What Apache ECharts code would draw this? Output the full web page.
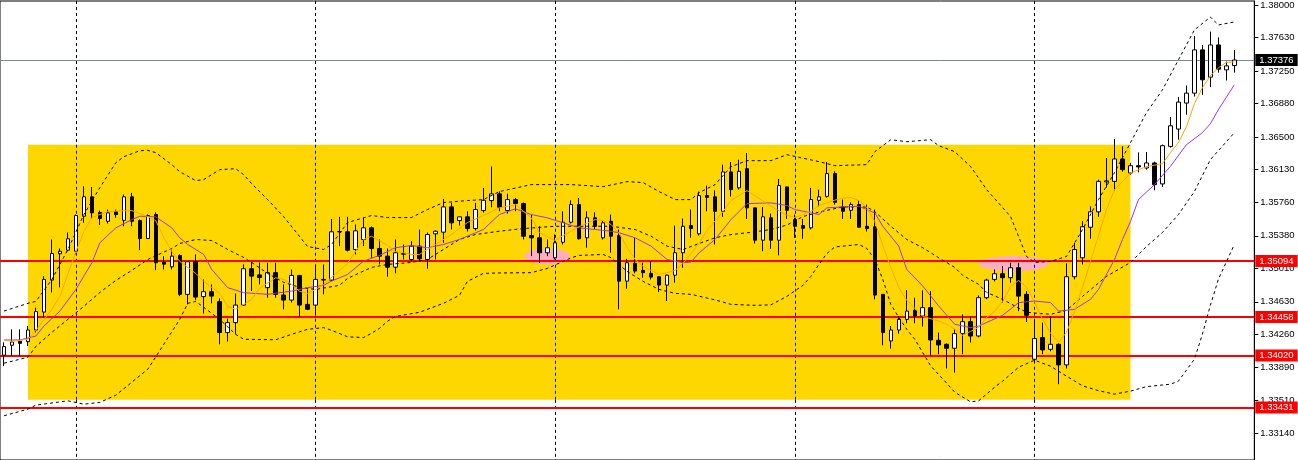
<!DOCTYPE html>
<html><head><meta charset="utf-8">
<script src="https://cdn.jsdelivr.net/npm/echarts@6/dist/echarts.min.js"></script>
<style>html,body{margin:0;padding:0;background:#fff}#c{width:1298px;height:460px}</style>
</head><body><div id="c"></div>
<script>
// Candles: [open, close, low, high]
const ohlc = [
[1.34024,1.34122,1.33902,1.34171],[1.34137,1.34174,1.34016,1.34318],[1.34182,1.34159,1.34016,1.34318],[1.34179,1.34310,1.34129,1.34356],
[1.34310,1.34519,1.34281,1.34564],[1.34514,1.34885,1.34451,1.34922],[1.34877,1.35179,1.34737,1.35338],[1.35176,1.35205,1.34794,1.35236],
[1.35217,1.35346,1.35205,1.35417],[1.35205,1.35610,1.35168,1.35621],[1.35602,1.35822,1.35527,1.35942],[1.35822,1.35640,1.35572,1.35935],
[1.35644,1.35576,1.35502,1.35666],[1.35545,1.35640,1.35519,1.35678],[1.35652,1.35621,1.35584,1.35678],[1.35556,1.35822,1.35488,1.35848],
[1.35822,1.35545,1.35488,1.35867],[1.35553,1.35349,1.35217,1.35564],[1.35349,1.35610,1.35343,1.35621],[1.35621,1.35074,1.34990,1.35647],
[1.35081,1.35058,1.34998,1.35149],[1.35028,1.35149,1.34998,1.35224],[1.35157,1.34715,1.34695,1.35168],[1.34715,1.35085,1.34601,1.35092],
[1.35085,1.34684,1.34650,1.35168],[1.34689,1.34745,1.34496,1.34885],[1.34745,1.34695,1.34613,1.34828],[1.34632,1.34281,1.34148,1.34669],
[1.34281,1.34394,1.34179,1.34439],[1.34394,1.34593,1.34261,1.34725],[1.34593,1.35006,1.34582,1.35055],[1.35006,1.34922,1.34752,1.35081],
[1.34936,1.34907,1.34828,1.35077],[1.34791,1.34961,1.34677,1.35074],[1.34961,1.34715,1.34677,1.35074],[1.34707,1.34650,1.34545,1.34828],
[1.34650,1.34930,1.34621,1.34998],[1.34930,1.34593,1.34462,1.34930],[1.34601,1.34545,1.34537,1.34771],[1.34593,1.34885,1.34480,1.35055],
[1.34877,1.34885,1.34715,1.35055],[1.34877,1.35425,1.34865,1.35572],[1.35425,1.35428,1.35262,1.35595],[1.35425,1.35217,1.35202,1.35595],
[1.35224,1.35436,1.35168,1.35508],[1.35338,1.35470,1.35262,1.35584],[1.35470,1.35236,1.35130,1.35485],[1.35236,1.35149,1.35055,1.35338],
[1.35149,1.35024,1.34915,1.35236],[1.35024,1.35187,1.34953,1.35338],[1.35179,1.35171,1.35111,1.35281],[1.35111,1.35262,1.35089,1.35319],
[1.35262,1.35119,1.35089,1.35451],[1.35111,1.35394,1.35006,1.35417],[1.35402,1.35432,1.35111,1.35440],[1.35421,1.35708,1.35300,1.35799],
[1.35708,1.35527,1.35451,1.35754],[1.35553,1.35595,1.35496,1.35598],[1.35595,1.35462,1.35428,1.35658],[1.35462,1.35678,1.35440,1.35754],
[1.35666,1.35783,1.35644,1.35924],[1.35780,1.35856,1.35704,1.36168],[1.35856,1.35704,1.35658,1.35885],[1.35666,1.35791,1.35632,1.35859],
[1.35791,1.35746,1.35658,1.35810],[1.35746,1.35375,1.35338,1.35757],[1.35383,1.35357,1.35149,1.35621],[1.35357,1.35187,1.35074,1.35488],
[1.35187,1.35244,1.35149,1.35338],[1.35130,1.35300,1.35111,1.35394],[1.35307,1.35534,1.35281,1.35658],[1.35534,1.35734,1.35519,1.35783],
[1.35734,1.35346,1.35338,1.35810],[1.35357,1.35584,1.35244,1.35658],[1.35584,1.35488,1.35451,1.35647],[1.35357,1.35527,1.35338,1.35553],
[1.35545,1.35375,1.35187,1.35621],[1.35383,1.34865,1.34545,1.35451],[1.34865,1.35074,1.34779,1.35119],[1.35066,1.34979,1.34953,1.35357],
[1.34987,1.34961,1.34904,1.35074],[1.34953,1.34911,1.34885,1.35092],[1.34915,1.34820,1.34741,1.34919],[1.34820,1.34933,1.34639,1.34941],
[1.34933,1.35187,1.34847,1.35496],[1.35187,1.35488,1.35017,1.35576],[1.35496,1.35462,1.35357,1.35678],[1.35402,1.35836,1.35383,1.35882],
[1.35836,1.35817,1.35658,1.35950],[1.35822,1.35658,1.35281,1.35896],[1.35658,1.36105,1.35595,1.36188],[1.36105,1.35904,1.35825,1.36218],
[1.35924,1.36112,1.35904,1.36244],[1.36142,1.35697,1.35572,1.36320],[1.35697,1.35330,1.35292,1.35700],[1.35330,1.35595,1.35205,1.35708],
[1.35584,1.35330,1.35232,1.35632],[1.35330,1.35950,1.35157,1.36026],[1.35935,1.35670,1.35572,1.35938],[1.35564,1.35488,1.35357,1.35621],
[1.35496,1.35466,1.35346,1.35572],[1.35470,1.35791,1.35451,1.35924],[1.35783,1.35822,1.35715,1.35904],[1.35828,1.36086,1.35814,1.36218],
[1.36086,1.35760,1.35734,1.36112],[1.35708,1.35658,1.35572,1.35791],[1.35670,1.35734,1.35572,1.35760],[1.35734,1.35477,1.35474,1.35783],
[1.35488,1.35462,1.35428,1.35734],[1.35482,1.34707,1.34658,1.35678],[1.34715,1.34281,1.34137,1.34715],[1.34186,1.34310,1.34099,1.34356],
[1.34310,1.34431,1.34269,1.34469],[1.34431,1.34525,1.34386,1.34763],[1.34533,1.34469,1.34386,1.34677],[1.34469,1.34564,1.34349,1.34760],
[1.34564,1.34197,1.34016,1.34752],[1.34193,1.34140,1.34035,1.34281],[1.34148,1.34103,1.33873,1.34159],[1.34103,1.34269,1.33827,1.34318],
[1.34269,1.34405,1.34035,1.34488],[1.34405,1.34242,1.34167,1.34465],[1.34242,1.34677,1.34227,1.34703],[1.34677,1.34877,1.34660,1.34893],
[1.34885,1.34949,1.34862,1.34998],[1.34949,1.34904,1.34621,1.35035],[1.34904,1.35017,1.34847,1.35074],[1.35017,1.34695,1.34525,1.35074],
[1.34715,1.34477,1.34401,1.34752],[1.33978,1.34213,1.33941,1.34431],[1.34224,1.34084,1.34035,1.34394],[1.34091,1.34148,1.34069,1.34469],
[1.34148,1.33914,1.33695,1.34159],[1.33914,1.34915,1.33873,1.35066],[1.34915,1.35224,1.34885,1.35300],[1.35130,1.35482,1.35055,1.35545],
[1.35477,1.35652,1.35346,1.35715],[1.35652,1.35998,1.35595,1.36017],[1.35992,1.36003,1.35927,1.36263],[1.35998,1.36252,1.35896,1.36479],
[1.36252,1.36131,1.36108,1.36395],[1.36093,1.36176,1.36074,1.36207],[1.36176,1.36162,1.36100,1.36327],[1.36150,1.36207,1.36131,1.36331],
[1.36207,1.35961,1.35896,1.36222],[1.35969,1.36403,1.35935,1.36416],[1.36395,1.36629,1.36380,1.36728],[1.36592,1.36898,1.36471,1.36955],
[1.36887,1.37000,1.36754,1.37086],[1.37000,1.37491,1.36961,1.37649],[1.37491,1.37151,1.36981,1.37547],[1.37181,1.37547,1.37068,1.37698],
[1.37547,1.37272,1.37233,1.37634],[1.37264,1.37309,1.37143,1.37358],[1.37313,1.37376,1.37233,1.37491]
];
// Indicator lines, read as [candle index, price]
const bbUpper = [[0,1.34525],[3,1.34613],[4,1.34635],[6,1.34885],[8,1.35224],[10,1.35621],[12,1.35927],[14,1.36210],[15,1.36278],[17,1.36346],[18,1.36350],[19,1.36324],[21,1.36188],[22,1.36108],[24,1.36006],[25,1.36018],[27,1.36131],[29,1.36142],[30,1.36074],[31,1.35972],[33,1.35791],[35,1.35598],[37,1.35372],[38,1.35258],[40,1.35224],[41,1.35281],[43,1.35530],[46,1.35610],[48,1.35587],[51,1.35587],[53,1.35678],[55,1.35757],[58,1.35780],[60,1.35791],[62,1.35882],[66,1.35961],[71,1.35961],[75,1.35938],[78,1.35995],[80,1.35984],[82,1.35882],[84,1.35791],[86,1.35791],[87,1.35870],[89,1.35961],[91,1.36165],[93,1.36233],[96,1.36233],[98,1.36301],[102,1.36222],[104,1.36176],[108,1.36188],[109,1.36335],[111,1.36471],[113,1.36448],[116,1.36471],[117,1.36403],[119,1.36335],[121,1.36165],[123,1.35904],[126,1.35598],[128,1.35145],[129,1.35077],[131,1.35089],[133,1.35145],[135,1.35451],[137,1.35791],[139,1.36097],[141,1.36437],[143,1.36777],[145,1.37037],[147,1.37377],[149,1.37717],[151,1.37864],[152,1.37774],[154,1.37808]];
const bbMiddle = [[0,1.33933],[3,1.34001],[4,1.34125],[6,1.34284],[8,1.34431],[10,1.34579],[12,1.34737],[14,1.34873],[16,1.34987],[18,1.35111],[21,1.35236],[22,1.35292],[24,1.35338],[26,1.35326],[28,1.35224],[30,1.35134],[31,1.35077],[33,1.34953],[35,1.34851],[37,1.34794],[39,1.34771],[42,1.34817],[43,1.34896],[46,1.35021],[48,1.35055],[51,1.35077],[53,1.35111],[55,1.35224],[57,1.35338],[59,1.35394],[62,1.35432],[65,1.35462],[69,1.35488],[72,1.35488],[76,1.35488],[79,1.35451],[81,1.35375],[83,1.35262],[85,1.35224],[87,1.35292],[89,1.35357],[91,1.35394],[93,1.35414],[96,1.35451],[98,1.35502],[100,1.35598],[102,1.35649],[105,1.35708],[108,1.35706],[109,1.35655],[111,1.35488],[113,1.35338],[115,1.35244],[117,1.35130],[119,1.35021],[120,1.34930],[122,1.34828],[123,1.34737],[125,1.34658],[128,1.34511],[131,1.34488],[133,1.34533],[135,1.34692],[138,1.34919],[141,1.35077],[143,1.35258],[145,1.35417],[147,1.35621],[149,1.35882],[151,1.36244],[154,1.36550]];
const bbLower = [[0,1.33336],[3,1.33412],[4,1.33457],[8,1.33506],[10,1.33468],[12,1.33488],[14,1.33570],[18,1.33865],[22,1.34431],[23,1.34613],[24,1.34635],[27,1.34431],[29,1.34261],[30,1.34205],[34,1.34199],[36,1.34261],[38,1.34318],[40,1.34337],[41,1.34307],[43,1.34233],[45,1.34224],[46,1.34273],[47,1.34329],[48,1.34409],[49,1.34465],[52,1.34511],[55,1.34613],[57,1.34703],[58,1.34862],[60,1.34953],[62,1.34958],[66,1.34961],[68,1.35009],[71,1.35130],[72,1.35157],[75,1.35168],[76,1.35130],[78,1.34975],[80,1.34862],[82,1.34771],[84,1.34726],[86,1.34715],[89,1.34652],[91,1.34601],[94,1.34590],[96,1.34596],[98,1.34692],[100,1.34817],[101,1.34919],[102,1.35055],[103,1.35179],[104,1.35253],[107,1.35281],[108,1.35236],[109,1.35111],[110,1.34885],[111,1.34601],[112,1.34454],[113,1.34318],[114,1.34205],[116,1.33902],[118,1.33706],[119,1.33604],[121,1.33494],[122,1.33506],[124,1.33661],[125,1.33729],[127,1.33888],[129,1.33967],[131,1.33899],[133,1.33786],[135,1.33676],[137,1.33621],[139,1.33582],[141,1.33616],[143,1.33667],[146,1.33695],[147,1.33729],[149,1.33978],[150,1.34261],[151,1.34590],[152,1.34885],[154,1.35281]];
const maSlow = [[0,1.34197],[2,1.34197],[4,1.34242],[5,1.34355],[7,1.34525],[9,1.34771],[11,1.35074],[12,1.35300],[14,1.35470],[16,1.35564],[17,1.35602],[19,1.35595],[21,1.35470],[22,1.35357],[23,1.35281],[25,1.35168],[26,1.34998],[28,1.34791],[30,1.34734],[33,1.34715],[36,1.34752],[38,1.34791],[40,1.34817],[41,1.34865],[43,1.34941],[45,1.35092],[47,1.35157],[49,1.35244],[51,1.35270],[53,1.35244],[55,1.35281],[57,1.35338],[60,1.35451],[62,1.35621],[64,1.35686],[66,1.35621],[68,1.35584],[70,1.35527],[72,1.35470],[74,1.35451],[76,1.35432],[77,1.35414],[79,1.35357],[81,1.35262],[83,1.35111],[85,1.35074],[86,1.35081],[87,1.35187],[89,1.35338],[91,1.35564],[93,1.35746],[96,1.35754],[98,1.35723],[99,1.35678],[102,1.35621],[103,1.35697],[105,1.35708],[107,1.35715],[109,1.35640],[110,1.35488],[112,1.35262],[113,1.34998],[115,1.34809],[117,1.34582],[119,1.34375],[121,1.34337],[122,1.34355],[125,1.34477],[127,1.34621],[129,1.34639],[131,1.34621],[132,1.34525],[134,1.34545],[136,1.34658],[137,1.34771],[139,1.35111],[140,1.35338],[141,1.35542],[142,1.35791],[144,1.35961],[146,1.36168],[148,1.36414],[150,1.36550],[151,1.36652],[152,1.36811],[154,1.37094]];
const maFast = [[0,1.34197],[1,1.34182],[3,1.34205],[4,1.34307],[6,1.34545],[7,1.34692],[9,1.35202],[10,1.35428],[11,1.35587],[13,1.35655],[15,1.35666],[16,1.35666],[18,1.35598],[19,1.35553],[20,1.35360],[21,1.35202],[22,1.35089],[24,1.34953],[25,1.34862],[27,1.34726],[28,1.34579],[29,1.34545],[31,1.34658],[32,1.34783],[34,1.34904],[35,1.34885],[36,1.34828],[37,1.34749],[38,1.34726],[39,1.34771],[40,1.34828],[41,1.34907],[43,1.35066],[45,1.35338],[46,1.35375],[48,1.35270],[49,1.35202],[50,1.35187],[51,1.35168],[52,1.35168],[54,1.35281],[56,1.35394],[57,1.35462],[58,1.35530],[60,1.35610],[62,1.35697],[64,1.35734],[66,1.35584],[67,1.35417],[69,1.35326],[70,1.35383],[72,1.35485],[74,1.35564],[75,1.35553],[76,1.35508],[77,1.35406],[78,1.35247],[79,1.35111],[80,1.35032],[81,1.34987],[82,1.34941],[83,1.34961],[84,1.34987],[85,1.35066],[87,1.35292],[88,1.35440],[90,1.35655],[91,1.35780],[93,1.35893],[94,1.35836],[96,1.35715],[98,1.35613],[99,1.35587],[101,1.35658],[102,1.35723],[104,1.35785],[105,1.35808],[106,1.35814],[107,1.35780],[108,1.35700],[109,1.35542],[110,1.35270],[111,1.35021],[112,1.34794],[113,1.34647],[115,1.34465],[117,1.34412],[118,1.34375],[119,1.34318],[120,1.34250],[121,1.34295],[122,1.34341],[123,1.34454],[124,1.34522],[125,1.34635],[126,1.34805],[127,1.34873],[128,1.34794],[129,1.34624],[130,1.34431],[131,1.34273],[132,1.34171],[133,1.34284],[134,1.34522],[135,1.34794],[136,1.35089],[137,1.35383],[138,1.35678],[139,1.35904],[140,1.35995],[141,1.36093],[143,1.36165],[145,1.36199],[146,1.36324],[147,1.36437],[148,1.36618],[149,1.36879],[150,1.37060],[151,1.37196],[152,1.37287],[153,1.37349],[154,1.37355]];
const priceTicks = [1.38000,1.37630,1.37250,1.36880,1.36500,1.36130,1.35760,1.35380,1.35010,1.34630,1.34260,1.33890,1.33510,1.33140];
const redLevels = [1.35094,1.34458,1.34020,1.33431];
const bidPrice = 1.37376;
const weekStarts = [9,39,69,99,129];
const zoneFrom = 3, zoneTo = 141, zoneTop = 1.36414, zoneBottom = 1.33517;
const touchMarks = [[68,1.35145],[126,1.35064]];
const slotCount = 157;
const yMin = 1.32834, yMax = 1.38046;

const slots = Array.from({length: slotCount}, (_, i) => String(i));
const FONT = 'Liberation Sans, Arial, sans-serif';

const vertSegments = [];
weekStarts.forEach(k => {
  vertSegments.push([{coord:[k, yMax], lineStyle:{color:'#000', type:[3,3], width:1}}, {coord:[k, zoneTop]}]);
  vertSegments.push([{coord:[k, zoneTop], lineStyle:{color:'#0000ff', type:[3,3], width:1}}, {coord:[k, zoneBottom]}]);
  vertSegments.push([{coord:[k, zoneBottom], lineStyle:{color:'#000', type:[3,3], width:1}}, {coord:[k, yMin]}]);
});

const levelLabel = (bg) => ({show:true, position:'end', formatter:'{b}', color:'#fff', backgroundColor:bg,
  fontFamily:FONT, fontSize:9.5, padding:[1,4,0,4], lineHeight:11, distance:1});
const levelLines = redLevels.map(v => ({name: v.toFixed(5), yAxis: v,
  lineStyle:{color:'#ff0000', width:2, type:'solid'}, label: levelLabel('#ff0000')}));
levelLines.unshift({name: bidPrice.toFixed(5), yAxis: bidPrice,
  lineStyle:{color:'#778899', width:1, type:'solid'}, label: levelLabel('#000')});

function lineSeries(data, color, dashed, z) {
  return {type:'line', data, symbol:'none', silent:true, z,
    lineStyle:{color, width:1, type: dashed ? [3,3] : 'solid'}, emphasis:{disabled:true}};
}

const chart = echarts.init(document.getElementById('c'), null, {renderer:'canvas'});
chart.setOption({
  animation:false,
  backgroundColor:'#fff',
  grid:{left:-1.7, right:43.7, top:1, bottom:-1, show:true, borderColor:'#000', borderWidth:1, backgroundColor:'#fff'},
  xAxis:{type:'category', data:slots, boundaryGap:true, axisLine:{show:false}, axisTick:{show:false}, axisLabel:{show:false}, splitLine:{show:false}},
  yAxis:{type:'value', position:'right', min:yMin, max:yMax,
    axisLine:{show:true, lineStyle:{color:'#000', width:1}},
    axisTick:{show:true, length:4, customValues:priceTicks, lineStyle:{color:'#000'}},
    axisLabel:{customValues:priceTicks, formatter:(v)=>Number(v).toFixed(5), color:'#000', fontFamily:FONT, fontSize:9.5, margin:6},
    splitLine:{show:false}},
  series:[
    {type:'line', data:[], z:1, silent:true,
      markArea:{silent:true, itemStyle:{color:'#ffd700'}, data:[[{coord:[zoneFrom, zoneTop]}, {coord:[zoneTo, zoneBottom]}]]}},
    {type:'line', data:[], z:2, silent:true,
      markLine:{silent:true, precision:5, symbol:['none','none'], label:{show:false}, animation:false, data:vertSegments}},
    {type:'scatter', z:3, silent:true, symbol:'circle', itemStyle:{color:'#ffa3f0'},
      data:[{value:touchMarks[0], symbolSize:[46,16]}, {value:touchMarks[1], symbolSize:[70,15], symbolOffset:[3,0]}]},
    {type:'candlestick', data:ohlc, z:5, barWidth:4, silent:true,
      itemStyle:{color:'#fff', color0:'#000', borderColor:'#000', borderColor0:'#000', borderWidth:1}},
    lineSeries(bbUpper, '#000', true, 6),
    lineSeries(bbMiddle, '#000', true, 6),
    lineSeries(bbLower, '#000', true, 6),
    lineSeries(maSlow, '#9a35f0', false, 7),
    lineSeries(maFast, '#ffa500', false, 7),
    {type:'line', data:[], z:10, silent:true,
      markLine:{silent:true, precision:5, symbol:['none','none'], animation:false, data:levelLines}}
  ]
});
</script>
</body></html>
